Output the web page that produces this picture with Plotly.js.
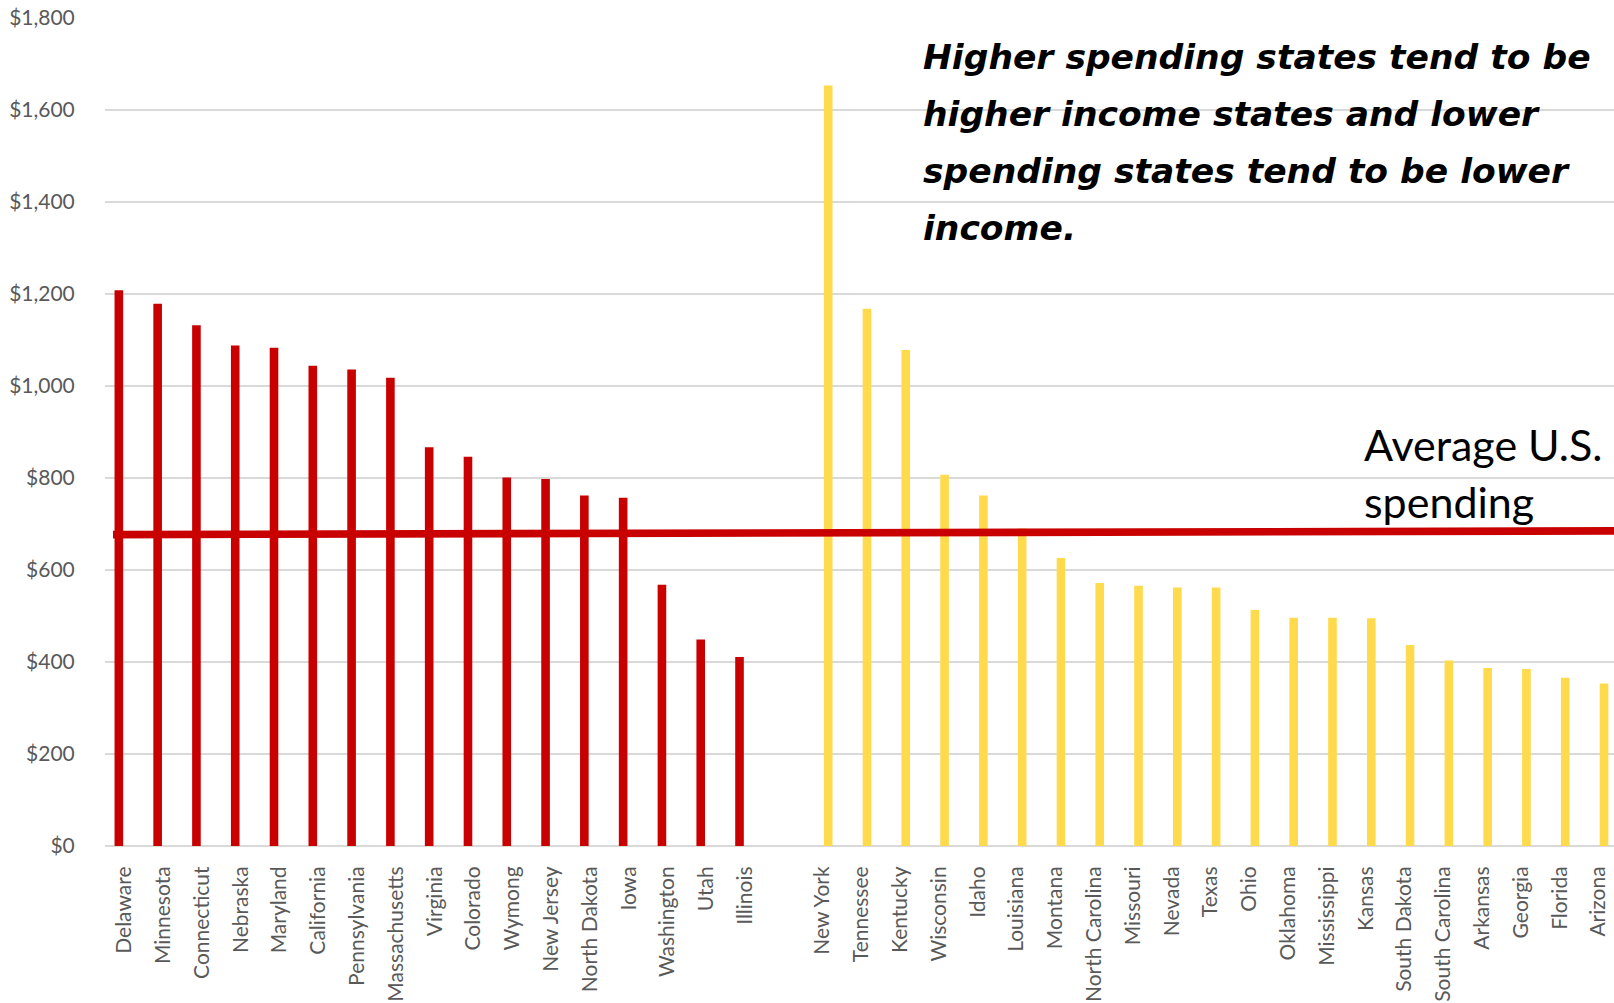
<!DOCTYPE html>
<html>
<head>
<meta charset="utf-8">
<script src="https://cdn.plot.ly/plotly-3.0.1.min.js"></script>
<style>
  html, body { margin: 0; padding: 0; background: #ffffff; }
  #chart { width: 1614px; height: 1003px; }
</style>
</head>
<body>
<div id="chart"></div>
<script>
// ---- Data ----
const redStates = ["Delaware", "Minnesota", "Connecticut", "Nebraska", "Maryland", "California",
  "Pennsylvania", "Massachusetts", "Virginia", "Colorado", "Wymong", "New Jersey",
  "North Dakota", "Iowa", "Washington", "Utah", "Illinois"];
const redValues = [1208, 1179, 1132, 1088, 1083, 1044, 1036, 1018, 867, 846, 801, 798, 762, 757, 568, 449, 411];

const gapCategory = [" "];

const yellowStates = ["New York", "Tennessee", "Kentucky", "Wisconsin", "Idaho", "Louisiana", "Montana",
  "North Carolina", "Missouri", "Nevada", "Texas", "Ohio", "Oklahoma", "Mississippi", "Kansas",
  "South Dakota", "South Carolina", "Arkansas", "Georgia", "Florida", "Arizona"];
const yellowValues = [1653, 1168, 1078, 807, 762, 690, 626, 572, 566, 562, 562, 513, 496, 496, 495, 437, 403, 387, 385, 366, 353];

// Average U.S. spending line (value at its left end and at its right end)
const averageLine = [677, 685];

const yTickValues = [0, 200, 400, 600, 800, 1000, 1200, 1400, 1600, 1800];
const yTickLabels = ["$0", "$200", "$400", "$600", "$800", "$1,000", "$1,200", "$1,400", "$1,600", "$1,800"];

const noteLines = ["Higher spending states tend to be", "higher income states and lower",
  "spending states tend to be lower", "income."];
const averageLabelLines = ["Average U.S.", "spending"];

// ---- Layout helpers ----
const W = 1614, H = 1003;
const M = {l: 105, r: 0, t: 18, b: 157};
const PW = W - M.l - M.r, PH = H - M.t - M.b;
const px2x = px => (px - M.l) / PW;
const px2y = py => (H - M.b - py) / PH;

const categories = redStates.concat(gapCategory, yellowStates);

const traces = [
  {
    type: "bar", x: redStates, y: redValues,
    width: 0.222, offset: -0.254,
    marker: {color: "#C80000", line: {width: 0}},
    hoverinfo: "x+y"
  },
  {
    type: "bar", x: yellowStates, y: yellowValues,
    width: 0.222, offset: 0.032,
    marker: {color: "#FFDA4D", line: {width: 0}},
    hoverinfo: "x+y"
  }
];

const annotations = [];
const noteBaselines = [70.7, 127.7, 184.7, 241.7];
noteLines.forEach((t, i) => {
  annotations.push({
    xref: "paper", yref: "paper", x: px2x(921), y: px2y(noteBaselines[i] + 8),
    xanchor: "left", yanchor: "bottom", showarrow: false, align: "left",
    text: "<b><i>" + t + "</i></b>",
    font: {family: "DejaVu Sans", size: 34.5, color: "#000000"}
  });
});
const avgBaselines = [461, 518];
averageLabelLines.forEach((t, i) => {
  annotations.push({
    xref: "paper", yref: "paper", x: px2x(1362), y: px2y(avgBaselines[i] + 10.5),
    xanchor: "left", yanchor: "bottom", showarrow: false, align: "left",
    text: t,
    font: {family: "Lato", size: 43, color: "#000000"}
  });
});

const layout = {
  width: W, height: H,
  margin: M,
  paper_bgcolor: "#ffffff", plot_bgcolor: "#ffffff",
  showlegend: false,
  barmode: "overlay",
  font: {family: "Lato", color: "#595959"},
  xaxis: {
    type: "category",
    categoryorder: "array",
    categoryarray: categories,
    range: [-0.5, 38.4],
    tickangle: -90,
    tickfont: {family: "Lato", size: 21, color: "#595959"},
    showgrid: false,
    zeroline: false,
    showline: false,
    ticks: "outside", ticklen: 11, tickcolor: "rgba(0,0,0,0)",
    fixedrange: true
  },
  yaxis: {
    range: [0, 1800],
    tickmode: "array",
    tickvals: yTickValues,
    ticktext: yTickLabels,
    tickfont: {family: "Lato", size: 21, color: "#595959"},
    showgrid: true, gridcolor: "#D9D9D9", gridwidth: 1.5,
    zeroline: true, zerolinecolor: "#D9D9D9", zerolinewidth: 1.5,
    showline: false,
    ticks: "outside", ticklen: 25, tickcolor: "rgba(0,0,0,0)",
    fixedrange: true
  },
  shapes: [
    {
      type: "line", layer: "above",
      xref: "paper", yref: "y",
      x0: px2x(113), x1: 1.0,
      y0: averageLine[0], y1: averageLine[1],
      line: {color: "#C80000", width: 7.7}
    }
  ],
  annotations: annotations
};

Plotly.newPlot("chart", traces, layout, {displayModeBar: false, staticPlot: true});
</script>
</body>
</html>
